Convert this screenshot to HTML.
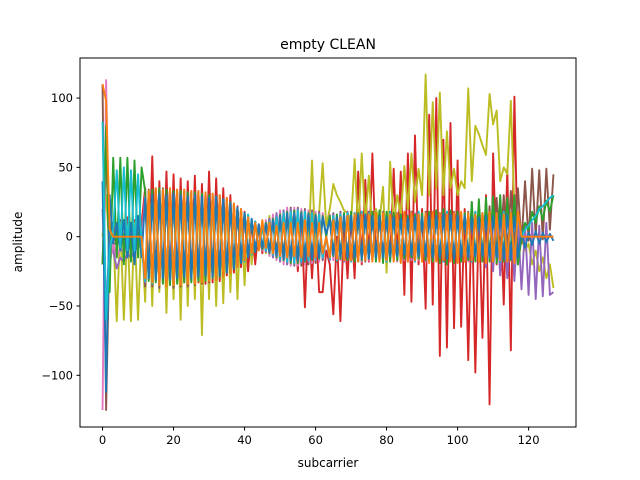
<!DOCTYPE html>
<html><head><meta charset="utf-8"><style>
html,body{margin:0;padding:0;background:#fff;}
svg{display:block;font-family:"DejaVu Sans","Liberation Sans",sans-serif;}
</style></head><body>
<svg id="chart" width="640" height="480" viewBox="0 0 640 480" xmlns="http://www.w3.org/2000/svg">
<rect x="0" y="0" width="640" height="480" fill="#fff"/>
<defs><clipPath id="pc"><rect x="80" y="58" width="496" height="369"/></clipPath></defs>
<text x="328" y="49" text-anchor="middle" font-size="14">empty CLEAN</text>
<g id="series" clip-path="url(#pc)"></g>
<rect x="80" y="58" width="496" height="369" fill="none" stroke="#000" stroke-width="1"/>
<g id="xticks"></g>
<g id="yticks"></g>
<text x="328" y="467" text-anchor="middle" font-size="12">subcarrier</text>
<text x="0" y="0" text-anchor="middle" font-size="12" transform="translate(22,242) rotate(-90)">amplitude</text>
</svg>
<script>
const xTicks = [0, 20, 40, 60, 80, 100, 120];
const yTicks = [-100, -50, 0, 50, 100];
const seriesNames = ["red","olive","brown","purple","pink","green","blue","cyan","orange"];
const seriesColors = ["#d62728","#bcbd22","#8c564b","#9467bd","#e377c2","#2ca02c","#1f77b4","#17becf","#ff7f0e"];
const brown = [110,-125, 0,-5,-5,-3,-2,-3,-2,-3,-2,-2,
-36,34,-36,35,-37,35,-36,35,-37,34,-36,34,-36,33,-35,33,-34,32,-33,31,-31,30,-29,28,-26,24,-22,20,-18,15,-13,11,
-9,10,-11,13,-15,17,-18,19,-20,21,-21,21,-21,20,-20,19,-19,18,-17, 0,
-17,17,-18,18,-18,18,-17,17,-18,18,-18,18,-17,17,-18,18,-18,18,-17,17,-18,18,-18,18,-17,17,-18,18,-18,18,-17,17,-18,18,-18,18,-17,17,-18,18,-18,18,-17,17,-18,22,-15,28,-12,30,-10,33,-8,35,
-5,40,-3,49,0,48,-2,49,5,45];
const pink = [-125,113, -20,-5,-15,-8,-12,-5,-10,-5,-8,-3,
30,-31,31,-32,32,-33,32,-32,32,-32,31,-32,31,-31,31,-30,30,-30,29,-29,28,-27,26,-25,23,-21,19,-17,15,-13,11,-9,
9,-10,12,-14,16,-17,19,-20,21,-21,21,-21,20,-20,19,-19,18,-18,17, 0,
16,-17,16,-17,17,-17,17,-18,17,-18,16,-17,16,-17,17,-17,17,-18,17,-18,16,-17,16,-17,17,-17,17,-18,17,-18,16,-17,16,-17,17,-17,17,-18,17,-18,16,-17,16,-17,17,-17,17,-18,17,-18,16,-17,16,-17,
5,-5,3,-3,2,-2,1,-1,0,0];
const purple = [20,-50, -5,-10,-23,-15,-18,-12,-15,-10,-8,-5,
-33,31,-33,32,-34,33,-33,33,-34,32,-33,32,-33,31,-32,31,-31,30,-30,29,-29,28,-27,26,-24,22,-21,19,-17,14,-12,10,
-8,9,-11,13,-15,17,-18,19,-20,20,-20,20,-19,19,-18,18,-17,17,-16, 0,
-17,16,-17,17,-18,18,-17,17,-18,18,-17,17,-16,16,-17,17,-18,18,-17,17,-16,16,-17,17,-18,18,-17,17,-16,16,-17,17,-18,18,-17,17,-16,16,-17,17,-18,18,-17,17,-22,15,-25,14,-28,12,-30,13,-32,12,
-38,8,-42,10,-45,8,-43,10,-42,-40];
const blue = [40,-112, 30,-5,10,-10,12,-15,10,-20,15,-15,
28,-30,30,-31,31,-30,30,-31,31,-30,30,-29,29,-30,30,-29,29,-28,28,-29,29,-28,27,-26,24,-23,21,-19,17,-15,13,-11,
9,-8,9,-11,12,-14,15,-16,17,-17,17,-17,17,-17,16,-16,15,-15,14, 2,
12,-13,14,-14,15,-15,15,-15,16,-16,16,-16,15,-15,15,-15,14,-14,14,-14,13,-13,13,-13,14,-14,14,-14,15,-15,15,-15,16,-16,16,-16,15,-15,15,-15,14,-14,14,-14,15,-15,15,-15,16,-16,16,-16,15,-15,
5,-8,3,-6,4,-5,3,-4,2,-3];
const cyan = [83,-60, -10,5,48,-8,50,-10,48,-10,45,-5,
-32,33,-34,33,-34,34,-33,34,-34,33,-33,33,-33,32,-32,33,-32,31,-31,30,-30,29,-28,27,-25,24,-22,20,-18,16,-13,11,
-9,8,-10,11,-13,14,-16,17,-18,18,-19,19,-18,18,-17,17,-16,16,-15, 0,
-16,15,-17,16,-17,17,-18,17,-18,18,-17,17,-16,16,-17,17,-18,18,-17,17,-16,16,-17,17,-18,18,-17,17,-16,16,-17,17,-18,18,-17,17,-16,16,-17,17,-18,18,-17,17,-16,16,-17,17,-18,18,-17,17,-16,16,
0,5,8,12,15,20,22,25,28,30];
const green = [-20,80, -40,57,-15,57,-20,57,-18,55,-15,50,
33,-32,34,-33,35,-34,34,-35,33,-34,33,-33,32,-33,32,-32,31,-32,30,-30,29,-29,27,-26,25,-23,21,-19,17,-15,12,-11,
8,-9,10,-12,13,-15,16,-17,18,-19,19,-19,18,-18,17,-17,16,-16,15, 0,
15,-14,16,-16,17,-17,18,-18,17,-17,16,-16,18,-18,19,-19,18,-18,17,-17,16,-16,15,-15,16,-16,17,-17,18,-18,19,-19,20,-20,19,-19,18,-18,17,-17,25,-18,27,-18,28,-18,29,-19,30,-18,28,-17,30,-20,
0,10,5,18,10,22,12,26,18,30];
const olive = [0,30, -10,5,-61,10,-60,8,-61,10,-60,5,
-47,30,-50,30,-40,31,-55,30,-45,32,-60,31,-50,30,-45,31,-71,30,-45,30,-50,29,-48,26,-40,23,-45,20,-35,15,-20,11,
-10,8,-12,15,-14,14,-18,16,-19,17,-19,17,-18,17,-10,55,-15,17,53, 8,
20,38,30,25,19,17,10,56,5,60,10,44,5,20,10,36,-26,54,10,30,15,51,20,60,25,49,30,117,30,97,35,104,30,76,35,49,30,40,35,107,40,80,74,66,59,103,81,91,40,50,45,98,20,5,
0,-10,-5,-20,-10,-25,-15,-30,-20,-37];
const red = [-20,60, -15,10,-8,12,-10,14,-10,12,-8,10,
35,-30,58,-32,40,-33,47,-33,45,-32,42,-33,40,-32,44,-33,38,-34,47,-33,42,-32,35,-28,30,-26,22,-22,18,-25,12,-20,
8,-12,10,-12,13,-15,15,-17,17,-20,18,-25,18,-51,17,-30,16,-40,-40, -10,
-20,-56,0,-61,10,-30,15,-30,47,-20,41,-18,60,-15,15,-15,15,-16,49,-16,47,-42,60,-47,73,-20,20,-52,88,-49,100,-86,70,-80,82,-66,55,-65,20,-89,25,-98,20,-73,30,-121,60,-20,25,-49,49,-82,101,-20,
0,0,0,0,0,0,0,0,0,0];
const orange = [110,98, 5,0,0,0,0,0,0,0,0,0,
-30,33,-33,35,-35,34,-36,35,-35,34,-35,34,-34,33,-34,33,-33,32,-32,31,-31,30,-29,28,-26,24,-22,20,-17,14,-12,10,
-10,12,-8,10,-12,8,-14,10,-15,10,-14,10,-15,12,-14,10,-15,10,-12, 0,
-15,12,-16,14,-17,15,-17,16,-18,16,-17,16,-18,17,-18,17,-17,16,-18,17,-19,18,-18,17,-17,16,-18,17,-19,18,-18,17,-17,16,-18,17,-19,18,-18,17,-17,16,-18,17,-19,18,-18,17,-17,16,-18,17,-19,18,
0,0,0,0,0,0,0,0,0,0];
const seriesData = [red, olive, brown, purple, pink, green, blue, cyan, orange];

const X0 = 80, X1 = 576, Y0 = 58, Y1 = 427;
const xMin = -6.35, xMax = 133.35, yMin = -137.3, yMax = 128.9;
function xs(v){ return X0 + (v - xMin) / (xMax - xMin) * (X1 - X0); }
function ys(v){ return Y0 + (yMax - v) / (yMax - yMin) * (Y1 - Y0); }
const NS = "http://www.w3.org/2000/svg";

const g = document.getElementById("series");
seriesData.forEach(function(arr, k){
  const p = document.createElementNS(NS, "polyline");
  p.setAttribute("points", arr.map(function(v, i){ return xs(i).toFixed(2) + "," + ys(v).toFixed(2); }).join(" "));
  p.setAttribute("fill", "none");
  p.setAttribute("stroke", seriesColors[k]);
  p.setAttribute("stroke-width", "1.9");
  p.setAttribute("stroke-linejoin", "round");
  
  
  g.appendChild(p);
});

const gx = document.getElementById("xticks");
xTicks.forEach(function(t){
  const x = xs(t);
  const l = document.createElementNS(NS, "line");
  l.setAttribute("x1", x); l.setAttribute("x2", x);
  l.setAttribute("y1", Y1); l.setAttribute("y2", Y1 + 3.5);
  l.setAttribute("stroke", "#000");
  
  
  gx.appendChild(l);
  const tx = document.createElementNS(NS, "text");
  tx.setAttribute("x", x); tx.setAttribute("y", Y1 + 17);
  tx.setAttribute("text-anchor", "middle");
  tx.setAttribute("font-size", "11.5");
  tx.textContent = String(t);
  
  
  gx.appendChild(tx);
});

const gy = document.getElementById("yticks");
yTicks.forEach(function(t){
  const y = ys(t);
  const l = document.createElementNS(NS, "line");
  l.setAttribute("x1", X0 - 3.5); l.setAttribute("x2", X0);
  l.setAttribute("y1", y); l.setAttribute("y2", y);
  l.setAttribute("stroke", "#000");
  
  
  gy.appendChild(l);
  const tx = document.createElementNS(NS, "text");
  tx.setAttribute("x", X0 - 7); tx.setAttribute("y", y + 4);
  tx.setAttribute("text-anchor", "end");
  tx.setAttribute("font-size", "11.5");
  tx.textContent = t < 0 ? "\u2212" + Math.abs(t) : String(t);
  
  
  gy.appendChild(tx);
});
</script>
</body></html>
